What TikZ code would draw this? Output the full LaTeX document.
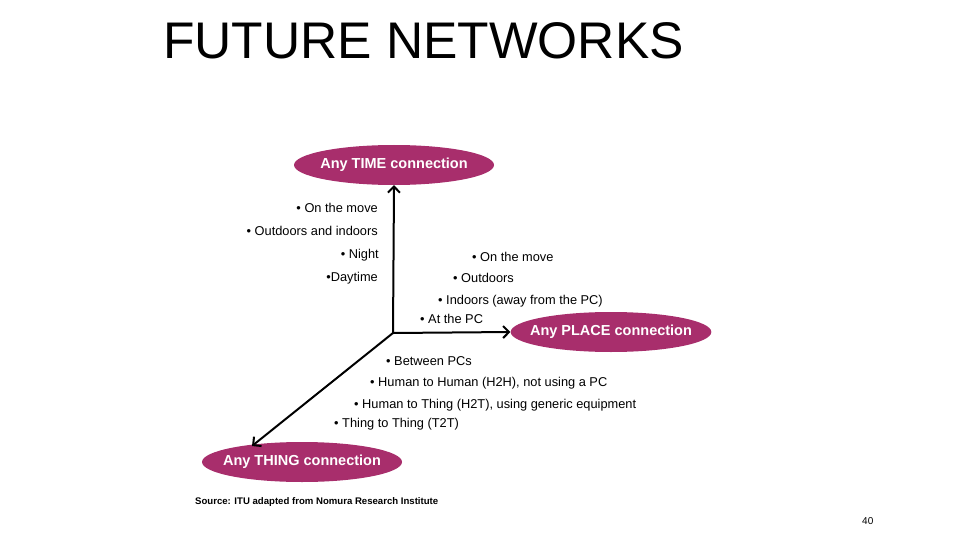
\documentclass[tikz,border=0pt]{standalone}
\usepackage{fontspec}
\setmainfont{Liberation Sans}
\usetikzlibrary{shapes.geometric, arrows.meta, positioning}

\definecolor{plum}{RGB}{168,46,108}

\begin{document}
\begin{tikzpicture}[
    x=1pt, y=-1pt,
    font=\fontsize{12.8}{15}\selectfont,
    conn/.style={ellipse, fill=plum, text=white, minimum width=200pt, minimum height=40pt, inner xsep=-10pt, inner ysep=0pt, font=\fontsize{14.5}{16}\selectfont\bfseries},
    item/.style={inner sep=0pt, anchor=base west},
    itemr/.style={inner sep=0pt, anchor=base east},
    axis/.style={-{Straight Barb[length=6pt, width=12pt, line width=2pt]}, line width=2pt}
]
    \useasboundingbox (0,0) rectangle (960,540);

    \node (title) [inner sep=0pt, anchor=base west, font=\fontsize{51.5}{56}\selectfont] at (163,59) {FUTURE NETWORKS};

    % the three connections
    \node (time) [conn] at (394,165) {Any TIME connection};
    \node (place) [conn] at (611,332) {Any PLACE connection};
    \node (thing) [conn] at (302,462) {Any THING connection};

    \coordinate (origin) at (393,333);

    \draw[axis] (origin) -- (time.south);
    \draw[axis] (origin) -- (place.west);
    \draw[axis] (origin) -- (252,446);

    % time axis
    \node (t1) [itemr] at (378,212) {\textbullet\ On the move};
    \node (t2) [itemr] at (378,235) {\textbullet\ Outdoors and indoors};
    \node (t3) [itemr] at (379,258) {\textbullet\ Night};
    \node (t4) [itemr] at (378,281) {\textbullet Daytime};

    % place axis
    \node (p1) [item] at (472,261) {\textbullet\ On the move};
    \node (p2) [item] at (453,282) {\textbullet\ Outdoors};
    \node (p3) [item] at (438,304) {\textbullet\ Indoors (away from the PC)};
    \node (p4) [item] at (420,323) {\textbullet\ At the PC};

    % thing axis
    \node (h1) [item] at (386,365) {\textbullet\ Between PCs};
    \node (h2) [item] at (370,386) {\textbullet\ Human to Human (H2H), not using a PC};
    \node (h3) [item] at (354,408) {\textbullet\ Human to Thing (H2T), using generic equipment};
    \node (h4) [item] at (334,427) {\textbullet\ Thing to Thing (T2T)};

    \node (src) [item, font=\fontsize{9.6}{11}\selectfont\bfseries] at (195,504) {Source: ITU adapted from Nomura Research Institute};
    \node (page) [item, font=\fontsize{10}{12}\selectfont] at (862,524) {40};
\end{tikzpicture}
\end{document}
